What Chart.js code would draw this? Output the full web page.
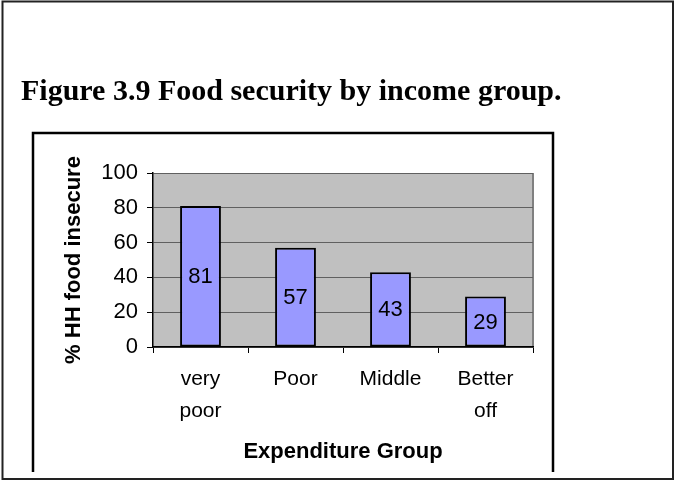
<!DOCTYPE html>
<html lang="en">
<head>
<meta charset="UTF-8">
<title>Food security by income group</title>
<script src="https://cdn.jsdelivr.net/npm/chart.js@4.4.0/dist/chart.umd.min.js"></script>
<style>
  html, body { margin: 0; padding: 0; background: #fff; }
  #wrap { position: relative; width: 675px; height: 481px; }
</style>
</head>
<body>
<div id="wrap"><canvas id="myChart" width="675" height="481"></canvas></div>
<script>
var figureTitle = 'Figure 3.9 Food security by income group.';
var groups = [['very', 'poor'], 'Poor', 'Middle', ['Better', 'off']];
var pctInsecure = [81, 57, 43, 29];
var yTicks = [0, 20, 40, 60, 80, 100];
var yTitle = '% HH food insecure';
var xTitle = 'Expenditure Group';

Chart.defaults.font.family = '"Liberation Sans", Arial, sans-serif';
Chart.defaults.color = '#000';

// frames, grey plot area, bar labels and the figure caption
var frame = {
    id: 'frame',
    beforeDraw: function(chart) {
        var ctx = chart.ctx, a = chart.chartArea;
        ctx.save();
        ctx.fillStyle = '#fff';
        ctx.fillRect(0, 0, chart.width, chart.height);
        ctx.strokeStyle = '#222';
        ctx.lineWidth = 2;
        ctx.strokeRect(2.5, 1.5, 670.5, 477.5);
        ctx.strokeStyle = '#000';
        ctx.lineWidth = 2.5;
        ctx.beginPath();
        ctx.moveTo(33, 472);
        ctx.lineTo(33, 133);
        ctx.lineTo(553, 133);
        ctx.lineTo(553, 472);
        ctx.stroke();
        ctx.fillStyle = '#c0c0c0';
        ctx.fillRect(a.left, a.top, a.right - a.left, a.bottom - a.top);
        ctx.strokeStyle = '#808080';
        ctx.lineWidth = 2;
        ctx.beginPath();
        ctx.moveTo(a.right, a.top);
        ctx.lineTo(a.right, a.bottom);
        ctx.stroke();
        ctx.restore();
    },
    afterDatasetsDraw: function(chart) {
        var ctx = chart.ctx;
        var meta = chart.getDatasetMeta(0);
        ctx.save();
        ctx.font = '22px "Liberation Sans", Arial, sans-serif';
        ctx.fillStyle = '#000';
        ctx.textAlign = 'center';
        ctx.textBaseline = 'middle';
        meta.data.forEach(function(bar, i) {
            ctx.fillText(String(pctInsecure[i]), bar.x, (bar.y + bar.base) / 2 + 1);
        });
        ctx.restore();
    },
    afterDraw: function(chart) {
        var ctx = chart.ctx;
        ctx.save();
        ctx.font = 'bold 30px "Liberation Serif", "Times New Roman", serif';
        ctx.fillStyle = '#000';
        ctx.textAlign = 'left';
        ctx.textBaseline = 'alphabetic';
        ctx.fillText(figureTitle, 21, 100);
        ctx.restore();
    }
};

var ctx = document.getElementById('myChart').getContext('2d');
var chart = new Chart(ctx, {
    type: 'bar',
    data: {
        labels: groups,
        datasets: [{
            label: yTitle,
            data: pctInsecure,
            backgroundColor: '#9999ff',
            borderColor: '#000',
            borderWidth: 2,
            borderSkipped: false,
            barPercentage: 0.43,
            categoryPercentage: 1.0
        }]
    },
    options: {
        responsive: false,
        animation: false,
        devicePixelRatio: 1,
        layout: { padding: { left: 20, top: 173, right: 142, bottom: 0 } },
        plugins: {
            legend: { display: false },
            title: { display: false },
            tooltip: { enabled: false }
        },
        scales: {
            x: {
                afterFit: function(scale) { scale.height = 134; },
                grid: {
                    display: true,
                    offset: true,
                    drawOnChartArea: false,
                    drawTicks: true,
                    tickLength: 6,
                    color: '#000',
                    tickColor: '#000'
                },
                border: { display: true, color: '#000', width: 1.5 },
                ticks: {
                    font: { size: 21, lineHeight: 1.52 },
                    padding: 10,
                    maxRotation: 0,
                    autoSkip: false
                },
                title: {
                    display: true,
                    text: xTitle,
                    font: { size: 22, weight: 'bold' },
                    padding: { top: 0, bottom: 16 }
                }
            },
            y: {
                min: yTicks[0],
                max: yTicks[yTicks.length - 1],
                afterFit: function(scale) { scale.width = 133; },
                grid: {
                    color: '#606060',
                    lineWidth: 1,
                    tickLength: 6,
                    tickColor: '#000'
                },
                border: { display: true, color: '#000', width: 1.5 },
                ticks: {
                    stepSize: yTicks[1] - yTicks[0],
                    font: { size: 22 },
                    padding: 9
                },
                title: {
                    display: true,
                    text: yTitle,
                    font: { size: 22, weight: 'bold' },
                    padding: { top: 41, bottom: 0 }
                }
            }
        }
    },
    plugins: [frame]
});
</script>
</body>
</html>
